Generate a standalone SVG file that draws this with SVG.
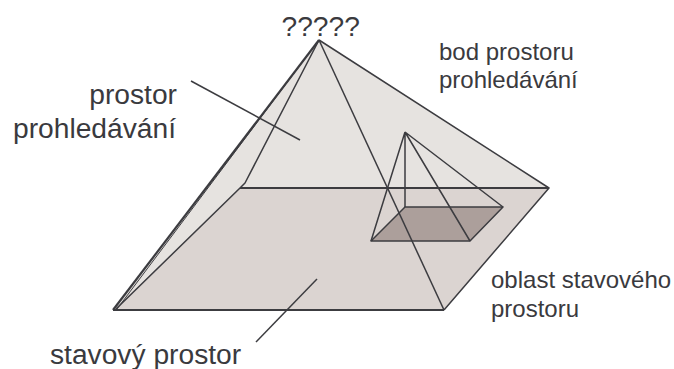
<svg xmlns="http://www.w3.org/2000/svg" width="674" height="369" viewBox="0 0 674 369">
<style>
.l{fill:none;stroke:#3c3c40;stroke-width:1.5;stroke-linejoin:round}
.t{font-family:"Liberation Sans",Arial,sans-serif;fill:#3a3a3e}
.b{font-size:28.2px}
.s{font-size:24px}
</style>
<rect width="674" height="369" fill="#fff"/>
<g id="pyramid-back"><polygon points="319,40 549,188 240,188 113,310" fill="#e6e3e0"/></g>
<g id="state-space"><polygon points="240,188 549,188 444,310 113,310" fill="#dbd4d1"/></g>
<g id="state-region"><polygon points="405,207 503,207 470,241 371,241" fill="#ac9f9b"/></g>
<g id="connectors">
<path class="l" d="M319,40 L549,188 L444,310"/>
<path class="l" d="M113,310 L444,310" style="stroke-width:2.2"/>
<path class="l" d="M319,40 L113,310" style="stroke-width:2.2"/>
<path class="l" d="M319,40 L117,309" style="stroke-width:1"/>
<path class="l" d="M319,40 L245,183 L240,188 L116,309"/>
<path class="l" d="M319,40 L444,310"/>
<path class="l" d="M240,188 L549,188" style="stroke-width:2"/>
<path class="l" d="M405,207 L503,207 L470,241 L371,241 Z"/>
<path class="l" d="M405,132 L405,207 M405,132 L371,241 M405,132 L470,241 M405,132 L503,207"/>
<path class="l" d="M191,81 L300,140"/>
<path class="l" d="M317,279 L256,342"/>
</g>
<g id="labels">
<text class="t b" x="281.5" y="36">?????</text>
<text class="t b" x="177" y="104" text-anchor="end">prostor</text>
<text class="t b" x="176" y="138" text-anchor="end">prohledávání</text>
<text class="t s" x="439" y="60">bod prostoru</text>
<text class="t s" x="439" y="88">prohledávání</text>
<text class="t s" x="491" y="288">oblast stavového</text>
<text class="t s" x="491" y="317">prostoru</text>
<text class="t b" x="50" y="364">stavový prostor</text>
</g>
</svg>
